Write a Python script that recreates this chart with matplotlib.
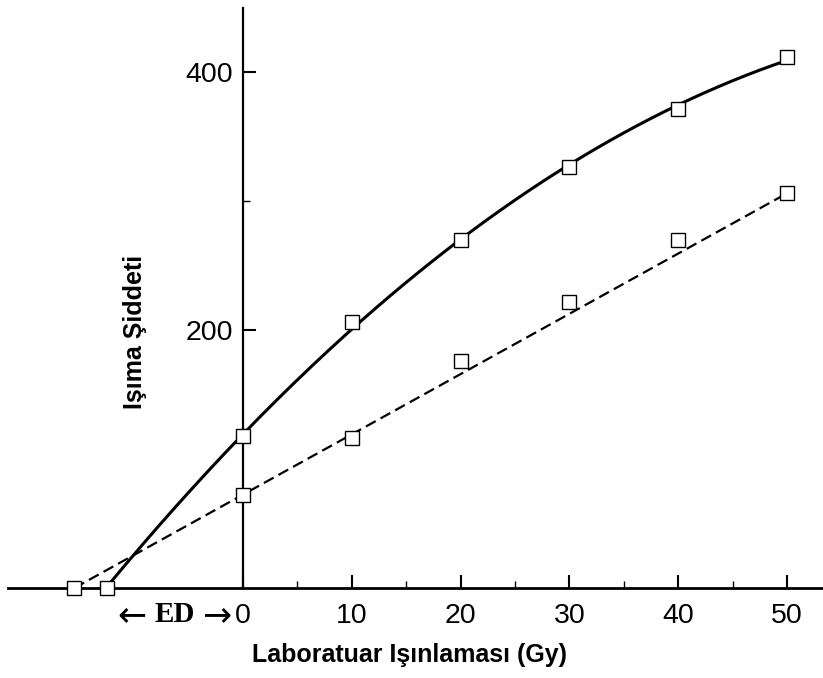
import numpy as np
import matplotlib.pyplot as plt

# readings from the chart
dose = [-12.5, 0, 10, 20, 30, 40, 50]
upper = [0, 118, 206, 270, 326, 371, 412]
dose2 = [-15.5, 0, 10, 20, 30, 40, 50]
lower = [0, 72, 116, 176, 222, 270, 306]

x_major = [0, 10, 20, 30, 40, 50]
x_minor = [5, 15, 25, 35, 45]
y_major = [200, 400]
y_minor = [300]

plt.rcParams['font.family'] = ['Liberation Sans', 'DejaVu Sans']

fig = plt.figure(figsize=(8.23, 6.78), dpi=100)
ax = fig.add_axes([8 / 823, 90 / 678, 815 / 823, 580 / 678])
ax.set_xlim(-21.6, 53.3)
ax.set_ylim(0, 449.6)

# fitted curves
c2 = np.polyfit(dose, upper, 2)
xs = np.linspace(dose[0], dose[-1], 200)
ax.plot(xs, np.polyval(c2, xs), color='black', lw=2.2, zorder=2)
# straight line from the first to the last point
c1 = np.polyfit([dose2[0], dose2[-1]], [lower[0], lower[-1]], 1)
xs2 = np.linspace(dose2[0], dose2[-1], 50)
ax.plot(xs2, np.polyval(c1, xs2), color='black', lw=1.6, ls=(0, (5, 2.5)), zorder=2)

ax.plot(dose, upper, 's', ms=10, mfc='white', mec='black', mew=1, zorder=3, clip_on=False)
ax.plot(dose2, lower, 's', ms=10, mfc='white', mec='black', mew=1, zorder=3, clip_on=False)

for s in ['top', 'right']:
    ax.spines[s].set_visible(False)
ax.spines['left'].set_position(('data', 0))
ax.spines['left'].set_linewidth(1.6)
ax.spines['bottom'].set_linewidth(2)

ax.set_xticks(x_major)
ax.set_xticks(x_minor, minor=True)
ax.set_yticks(y_major)
ax.set_yticks(y_minor, minor=True)
ax.tick_params(axis='both', which='major', direction='in', length=9.5, width=1.5,
               labelsize=20.5)
ax.tick_params(axis='both', which='minor', direction='in', length=5, width=1)
ax.tick_params(axis='x', which='major', pad=11)
ax.tick_params(axis='y', which='major', pad=7)

ty = 1 - 615 / 678
fig.text(132 / 823, ty, '\u2190', ha='center', va='center', fontsize=25,
         family='DejaVu Sans')
fig.text(175 / 823, ty, 'ED', ha='center', va='center',
         fontsize=21, fontweight='bold', family=['Liberation Serif', 'DejaVu Serif'])
fig.text(217 / 823, ty, '\u2192', ha='center', va='center', fontsize=25,
         family='DejaVu Sans')
fig.text(410 / 823, 1 - 655 / 678, 'Laboratuar Işınlaması (Gy)', ha='center', va='center',
         fontsize=18, fontweight='bold')
fig.text(135 / 823, 1 - 332 / 678, 'Işıma Şiddeti', ha='center', va='center',
         fontsize=18, fontweight='bold', rotation=90)

fig.savefig('out.png', dpi=100)
